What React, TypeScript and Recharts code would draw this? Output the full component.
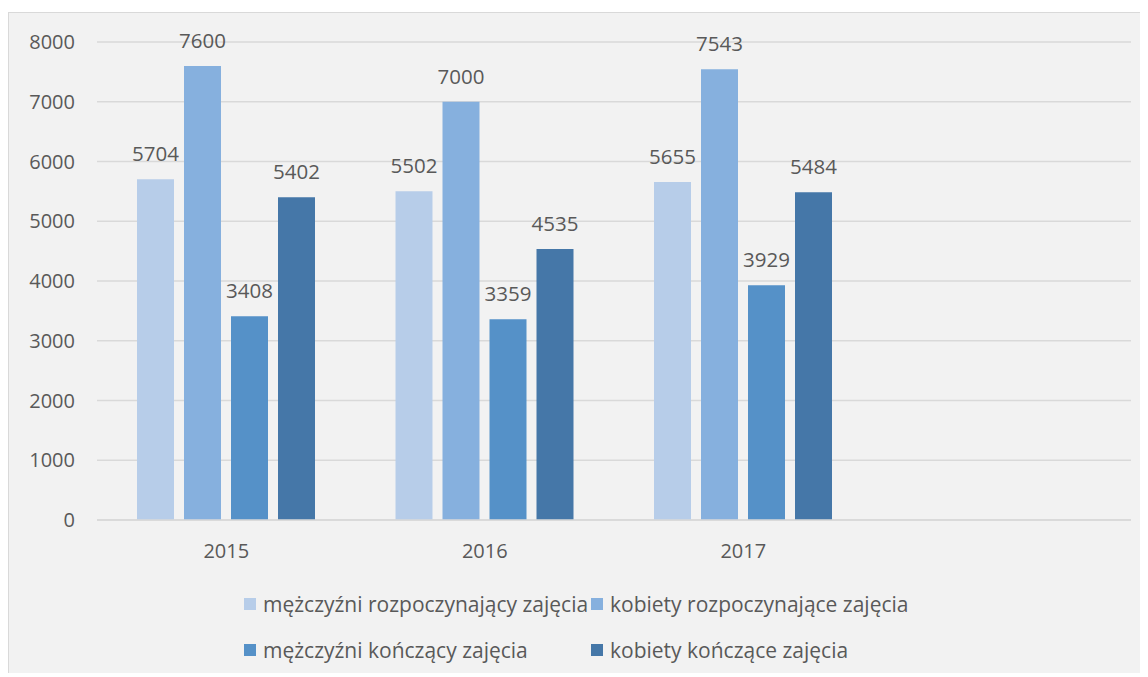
import React from 'react';
import { BarChart, Bar, XAxis, YAxis, CartesianGrid, LabelList } from 'recharts';

const categories = ['2015', '2016', '2017', ''];
const menStarting = [5704, 5502, 5655, null];
const womenStarting = [7600, 7000, 7543, null];
const menFinishing = [3408, 3359, 3929, null];
const womenFinishing = [5402, 4535, 5484, null];
const yTicks = [0, 1000, 2000, 3000, 4000, 5000, 6000, 7000, 8000];

const SERIES = [
    { key: 'menStarting', name: 'mężczyźni rozpoczynający zajęcia', values: menStarting, color: '#b7cde9' },
    { key: 'womenStarting', name: 'kobiety rozpoczynające zajęcia', values: womenStarting, color: '#86b0de' },
    { key: 'menFinishing', name: 'mężczyźni kończący zajęcia', values: menFinishing, color: '#5591c8' },
    { key: 'womenFinishing', name: 'kobiety kończące zajęcia', values: womenFinishing, color: '#4577a8' }
];

const FONT = '"Open Sans", sans-serif';
const TEXT = '#595959';
const GRID = '#d9d9d9';

export default function App() {
    const data = categories.map((year, i) => {
        const row: Record<string, string | number | null> = { year };
        SERIES.forEach((s) => {
            row[s.key] = s.values[i];
        });
        return row;
    });

    return (
        <div
            style={{
                position: 'relative',
                top: 4,
                width: 1140,
                height: 665,
                boxSizing: 'border-box',
                borderTop: `1px solid ${GRID}`,
                borderLeft: `1px solid ${GRID}`,
                background: '#f2f2f2',
                fontFamily: FONT
            }}
        >
            <BarChart
                width={1139}
                height={664}
                data={data}
                margin={{ top: 29, right: 17, left: 0, bottom: 127 }}
                barSize={37}
                barGap={10}
            >
                <CartesianGrid vertical={false} stroke={GRID} strokeWidth={1.5} />
                <XAxis
                    dataKey="year"
                    axisLine={{ stroke: GRID, strokeWidth: 1.5 }}
                    tickLine={false}
                    tickMargin={18}
                    height={30}
                    tick={{ fill: TEXT, fontSize: 20, fontFamily: FONT }}
                />
                <YAxis
                    domain={[0, 8000]}
                    ticks={yTicks}
                    width={88}
                    axisLine={false}
                    tickLine={false}
                    tickMargin={16}
                    tick={{ fill: TEXT, fontSize: 20, fontFamily: FONT }}
                />
                {SERIES.map((s) => (
                    <Bar key={s.key} dataKey={s.key} name={s.name} fill={s.color} isAnimationActive={false}>
                        <LabelList dataKey={s.key} position="top" offset={18} fill={TEXT} fontSize={20.5} fontFamily={FONT} />
                    </Bar>
                ))}
            </BarChart>
            <div
                style={{
                    position: 'absolute',
                    left: 235,
                    top: 568,
                    display: 'grid',
                    gridTemplateColumns: '347px auto',
                    gridAutoRows: '46px'
                }}
            >
                {SERIES.map((s) => (
                    <div key={s.key} style={{ display: 'flex', alignItems: 'center' }}>
                        <div style={{ width: 12, height: 12, background: s.color, marginRight: 7 }} />
                        <span style={{ fontSize: 21, color: TEXT, whiteSpace: 'nowrap' }}>{s.name}</span>
                    </div>
                ))}
            </div>
        </div>
    );
}
